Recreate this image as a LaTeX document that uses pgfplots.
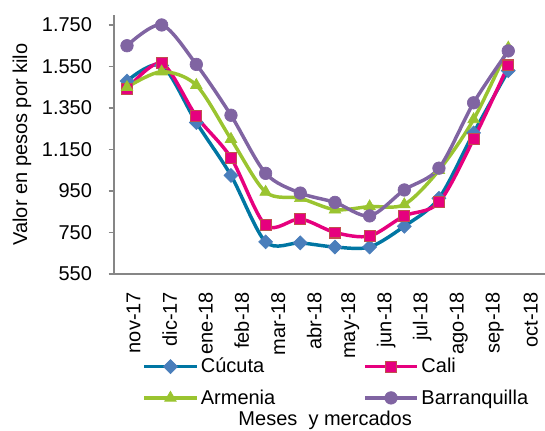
\documentclass[border=0pt]{standalone}
\usepackage{fontspec}
\setmainfont{Liberation Sans}
\usepackage{pgfplots}
\pgfplotsset{compat=1.18}

\definecolor{cucuta}{RGB}{0,118,163}
\definecolor{cucutamk}{RGB}{74,126,187}
\definecolor{cali}{RGB}{230,0,126}
\definecolor{calimk}{RGB}{192,80,77}
\definecolor{armenia}{RGB}{154,196,48}
\definecolor{barranq}{RGB}{128,100,162}
\definecolor{axisgray}{RGB}{134,134,134}

\begin{document}
\begin{tikzpicture}
\path[use as bounding box] (-85.5pt,-117pt) rectangle (323.25pt,205.5pt);
\begin{axis}[
  scale only axis,
  width=323.25pt, height=194.25pt,
  xmin=-0.375, xmax=12.06,
  ymin=550, ymax=1798,
  ytick={550,750,950,1150,1350,1550,1750},
  xtick={0.19,1.23,2.27,3.31,4.36,5.40,6.44,7.48,8.52,9.57,10.61,11.65},
  xticklabels={nov-17,dic-17,ene-18,feb-18,mar-18,abr-18,may-18,jun-18,jul-18,ago-18,sep-18,oct-18},
  axis x line*=bottom, axis y line*=left,
  axis line style={axisgray, line width=1pt, -},
  tick align=outside,
  major tick length=4pt,
  y tick style={axisgray, line width=1pt},
  x tick style={draw=none},
  /pgf/number format/.cd, 1000 sep={.}, assume math mode=true, /pgfplots/.cd,
  tick label style={font=\fontsize{15}{18}\selectfont},
  yticklabel style={xshift=-9pt},
  xticklabel style={rotate=90, anchor=east, xshift=-6pt},
  ylabel={Valor en pesos por kilo},
  ylabel style={font=\fontsize{15}{18}\selectfont, at={(axis description cs:-0.2135,0.5)}, anchor=center},
  xlabel={Meses\ \ y mercados},
  xlabel style={font=\fontsize{15}{18}\selectfont, at={(axis description cs:0.49,-0.566)}, anchor=center},
  legend columns=2,
  legend style={draw=none, fill=none, inner sep=0pt,
    at={(axis description cs:0.066,-0.314)}, anchor=north west,
    font=\fontsize{15}{18}\selectfont,
    row sep=7pt,
    /tikz/every even column/.append style={column sep=64pt}},
  legend cell align=left,
  legend image code/.code={
    \draw[mark repeat=2,mark phase=2,#1] plot coordinates {(0pt,0pt) (19.5pt,0pt) (39pt,0pt)};
  },
  every axis plot/.append style={line width=2.6pt, smooth},
]
\addplot[cucuta, mark=square*, mark size=3.7pt,
  mark options={rotate=45, fill=cucutamk, draw=cucutamk, line width=0.5pt, solid}]
  coordinates {(0,1480) (1,1555) (2,1280) (3,1025) (4,705) (5,700) (6,680) (7,680) (8,780) (9,915) (10,1230) (11,1530)};
\addlegendentry{Cúcuta}
\addplot[cali, mark=square*, mark size=4.1pt,
  mark options={fill=cali, draw=calimk, line width=0.8pt}]
  coordinates {(0,1440) (1,1565) (2,1310) (3,1110) (4,785) (5,815) (6,750) (7,733) (8,830) (9,895) (10,1200) (11,1555)};
\addlegendentry{Cali}
\addplot[armenia, mark=triangle*, mark size=5pt,
  mark options={fill=armenia, draw=armenia, line width=0.5pt}]
  coordinates {(0,1450) (1,1525) (2,1460) (3,1200) (4,945) (5,915) (6,860) (7,875) (8,885) (9,1050) (10,1295) (11,1640)};
\addlegendentry{Armenia}
\addplot[barranq, mark=*, mark size=4.7pt,
  mark options={fill=barranq, draw=barranq, line width=0.5pt}]
  coordinates {(0,1650) (1,1750) (2,1560) (3,1315) (4,1035) (5,940) (6,895) (7,830) (8,955) (9,1060) (10,1375) (11,1625)};
\addlegendentry{Barranquilla}
\end{axis}
\end{tikzpicture}
\end{document}
